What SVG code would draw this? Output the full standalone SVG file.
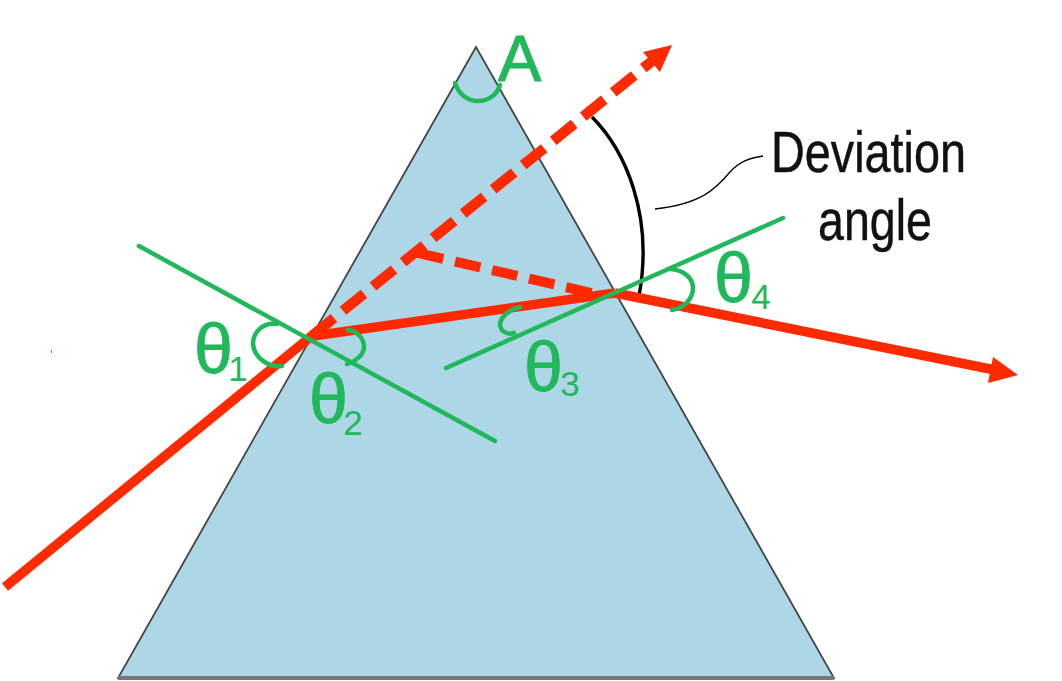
<svg xmlns="http://www.w3.org/2000/svg" width="1062" height="681" viewBox="0 0 1062 681">
<style>
.ray{fill:none;stroke:#ff2a00;stroke-width:9.5}
.head{fill:#ff2a00;stroke:none}
.normal{fill:none;stroke:#21b85c;stroke-width:4.5;stroke-linecap:round}
.arc{fill:none;stroke:#21b85c;stroke-width:4.5;stroke-linecap:round}
.blk{fill:none;stroke:#000}
text{font-family:"Liberation Sans",Arial,sans-serif}
.g{fill:#21b85c}
.th{font-size:70px;stroke:#21b85c;stroke-width:.8}
.sub{font-size:35px;stroke:none}
.lbl{font-size:58px;fill:#111;stroke:#111;stroke-width:.5}
</style>
<rect width="1062" height="681" fill="#fff"/>
<rect id="speck" x="51" y="350" width="1" height="3" fill="#21b85c"/>
<g id="prism">
<polygon points="476,47 118,678 834,678" fill="#add6e7" stroke="#444" stroke-width="1.8"/>
<rect x="118" y="676" width="716" height="4" fill="#777"/>
</g>
<g id="connectors">
<path class="blk" stroke-width="3.4" d="M592 117 C625 150 654 215 639 296"/>
<path class="blk" stroke-width="1.3" d="M655 209 C700 204 715 190 730 172 C740 161 750 158 763 156"/>
<path class="ray" d="M5 587 L314 334"/>
<path class="ray" stroke-width="8.5" d="M313 336 L615 293"/>
<path class="ray" d="M615 293 L1000 371"/>
<polygon class="head" points="1018,375 993,357 988,383"/>
<path class="ray" style="stroke-width:10.500" stroke-dasharray="27 11.600" d="M313 335 L662 53"/>
<polygon class="head" points="672,45 643,52 660,72"/>
<path class="ray" style="stroke-width:10" stroke-dasharray="26 12" d="M418 253 L600 295"/>
<path class="normal" d="M139 246 L495 441"/>
<path class="normal" d="M446 368 L783 218"/>
</g>
<g id="label-A">
<path class="arc" d="M455 83 C459 95 468 101 478 101 C488 101 497 95 500 85"/>
<text class="g" x="498" y="81" font-size="65" stroke="#21b85c" stroke-width="1">A</text>
</g>
<g id="label-theta1">
<path class="arc" d="M277 324 C262 322 253 333 253 344 C254 357 268 368 282 366"/>
<text class="g th" x="194" y="373">θ<tspan class="sub" dx="-4.700" dy="8">1</tspan></text>
</g>
<g id="label-theta2">
<path class="arc" d="M348 330 C358 331 364 339 364 347 C364 354 357 361 347 364"/>
<text class="g th" x="309" y="423">θ<tspan class="sub" dx="-4.700" dy="12">2</tspan></text>
</g>
<g id="label-theta3">
<path class="arc" d="M520 307 C508 310 500 318 500 325 C501 332 508 335 514 333"/>
<text class="g th" x="524" y="391">θ<tspan class="sub" dx="-2.700" dy="5">3</tspan></text>
</g>
<g id="label-theta4">
<path class="arc" d="M670 269 C685 270 693 279 693 288 C693 299 683 309 672 310"/>
<text class="g th" x="714" y="302">θ<tspan class="sub" dx="-1.700" dy="7">4</tspan></text>
</g>
<g id="label-deviation">
<text class="lbl" x="771" y="172" textLength="195" lengthAdjust="spacingAndGlyphs">Deviation</text>
<text class="lbl" x="818" y="240" textLength="114" lengthAdjust="spacingAndGlyphs">angle</text>
</g>
</svg>
